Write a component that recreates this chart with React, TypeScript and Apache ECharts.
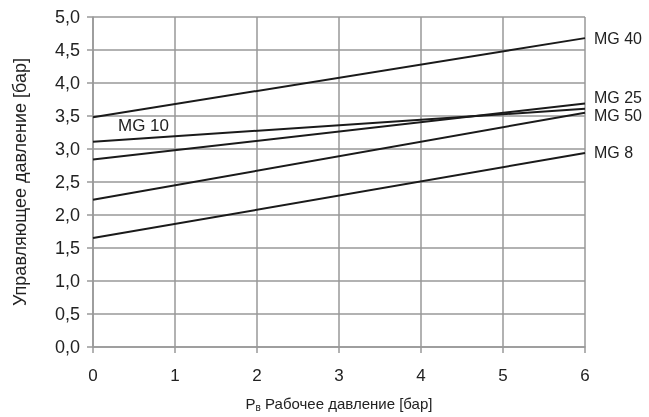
import React, { useEffect, useRef } from "react";
import * as echarts from "echarts";

const xTicks = [0, 1, 2, 3, 4, 5, 6];
const seriesNames = ["MG 40", "MG 10", "MG 25", "MG 50", "MG 8"];
const mg40 = [[0, 3.48], [6, 4.68]];
const mg10 = [[0, 3.11], [6, 3.61]];
const mg25 = [[0, 2.84], [6, 3.69]];
const mg50 = [[0, 2.23], [6, 3.55]];
const mg8 = [[0, 1.65], [6, 2.94]];

const FONT = "'Liberation Sans', Arial, sans-serif";
const GRID = "#999999";
const TXT = "#222222";

export default function App() {
  const ref = useRef<HTMLDivElement>(null);
  useEffect(() => {
    if (!ref.current) return;
    const chart = echarts.init(ref.current, null, { renderer: "svg" });
    const mkSeries = (name: string, data: number[][], endOffsetY: number | null, startLabel?: number[]) => ({
      name,
      type: "line",
      data: data.map((d, i) =>
        i === 0 && startLabel
          ? {
              value: d,
              label: {
                show: true,
                formatter: name,
                position: "right",
                offset: startLabel,
                color: TXT,
                fontSize: 17,
                fontFamily: FONT,
              },
            }
          : d
      ),
      showSymbol: true,
      symbol: "circle",
      symbolSize: 0,
      lineStyle: { color: "#1a1a1a", width: 2 },
      itemStyle: { color: "#1a1a1a" },
      silent: true,
      endLabel:
        endOffsetY === null
          ? { show: false }
          : {
              show: true,
              formatter: name,
              distance: 9,
              offset: [0, endOffsetY],
              color: TXT,
              fontSize: 16,
              lineHeight: 14,
              fontFamily: FONT,
            },
    });
    chart.setOption({
      animation: false,
      grid: { left: 93, right: 64, top: 17, bottom: 67 },
      xAxis: {
        type: "value",
        min: 0,
        max: 6,
        interval: 1,
        axisLine: { show: true, lineStyle: { color: GRID, width: 1.5 } },
        axisTick: { show: true, length: 6, lineStyle: { color: GRID, width: 1.5 } },
        splitLine: { show: true, lineStyle: { color: GRID, width: 1.5 } },
        axisLabel: {
          color: TXT,
          fontSize: 17,
          fontFamily: FONT,
          margin: 20,
          formatter: (v: number) => (xTicks.includes(v) ? String(v) : ""),
        },
        name: "{a|P}{b|в}{a| Рабочее давление [бар]}",
        nameLocation: "middle",
        nameGap: 47,
        nameTextStyle: {
          color: TXT,
          fontSize: 15,
          fontFamily: FONT,
          rich: {
            a: { color: TXT, fontSize: 15, fontFamily: FONT, lineHeight: 18 },
            b: { color: TXT, fontSize: 10, fontFamily: FONT, lineHeight: 18, verticalAlign: "bottom" },
          },
        },
      },
      yAxis: {
        type: "value",
        min: 0,
        max: 5,
        interval: 0.5,
        axisLine: { show: true, lineStyle: { color: GRID, width: 1.5 } },
        axisTick: { show: true, length: 6, lineStyle: { color: GRID, width: 1.5 } },
        splitLine: { show: true, lineStyle: { color: GRID, width: 1.5 } },
        axisLabel: {
          color: TXT,
          fontSize: 18,
          fontFamily: FONT,
          margin: 13,
          formatter: (v: number) => v.toFixed(1).replace(".", ","),
        },
        name: "Управляющее давление [бар]",
        nameLocation: "middle",
        nameGap: 64,
        nameRotate: 90,
        nameTextStyle: { color: TXT, fontSize: 18, fontFamily: FONT },
      },
      series: [
        mkSeries(seriesNames[0], mg40, 0),
        mkSeries(seriesNames[1], mg10, null, [20, -16]),
        mkSeries(seriesNames[2], mg25, -6),
        mkSeries(seriesNames[3], mg50, 3),
        mkSeries(seriesNames[4], mg8, 0),
      ],
    });
    return () => chart.dispose();
  }, []);
  return <div ref={ref} style={{ width: 649, height: 417, position: "fixed", left: 0, top: 0 }} />;
}
